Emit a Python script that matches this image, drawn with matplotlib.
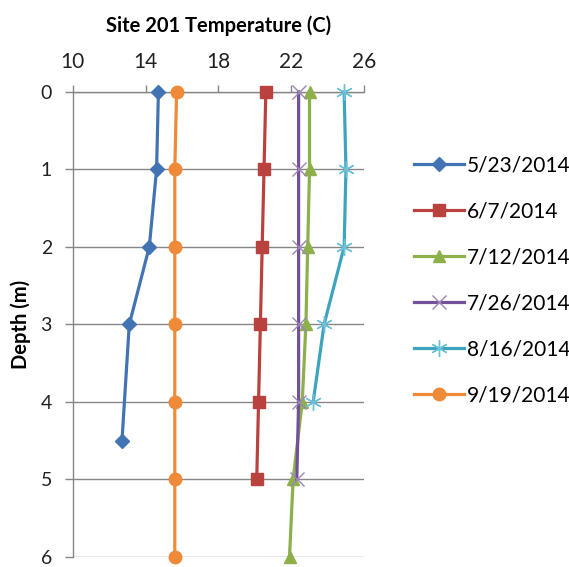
import matplotlib.pyplot as plt

plt.rcParams['font.family'] = ['Lato', 'DejaVu Sans']

# depth (m) and temperature (C) per sampling date
dates = ['5/23/2014', '6/7/2014', '7/12/2014', '7/26/2014', '8/16/2014', '9/19/2014']

depth_0523 = [0, 1, 2, 3, 4.5]
temp_0523 = [14.7, 14.6, 14.2, 13.1, 12.7]

depth_0607 = [0, 1, 2, 3, 4, 5]
temp_0607 = [20.6, 20.5, 20.4, 20.3, 20.2, 20.1]

depth_0712 = [0, 1, 2, 3, 4, 5, 6]
temp_0712 = [23.0, 23.0, 22.9, 22.8, 22.6, 22.1, 21.9]

depth_0726 = [0, 1, 2, 3, 4, 5]
temp_0726 = [22.4, 22.4, 22.4, 22.4, 22.4, 22.3]

depth_0816 = [0, 1, 2, 3, 4]
temp_0816 = [24.9, 25.0, 24.9, 23.8, 23.2]

depth_0919 = [0, 1, 2, 3, 4, 5, 6]
temp_0919 = [15.7, 15.6, 15.6, 15.6, 15.6, 15.6, 15.6]

xticks = [10, 14, 18, 22, 26]
yticks = [0, 1, 2, 3, 4, 5, 6]

fig = plt.figure(figsize=(5.69, 5.67), dpi=100)
ax = fig.add_axes([0.128, 0.018, 0.512, 0.820])

grey = '#868686'
lw = 2.3

ax.plot(temp_0523, depth_0523, color='#4274B4', lw=lw, marker='D', ms=7,
        mec='#4274B4', label=dates[0], clip_on=False, zorder=3)
ax.plot(temp_0607, depth_0607, color='#B9413E', lw=lw, marker='s', ms=9,
        mec='#B9413E', label=dates[1], clip_on=False, zorder=3)
ax.plot(temp_0712, depth_0712, color='#8DB04B', lw=lw, marker='^', ms=9,
        mec='#8DB04B', label=dates[2], clip_on=False, zorder=3)
ax.plot(temp_0726, depth_0726, color='#70519A', lw=lw, marker='x', ms=10,
        mew=1.0, mec='#9C86B8', label=dates[3], clip_on=False, zorder=3)
ax.plot(temp_0816, depth_0816, color='#3DA3BF', lw=lw, marker=(6, 2, 0), ms=12,
        mew=1.0, mec='#6CC0D8', label=dates[4], clip_on=False, zorder=3)
ax.plot(temp_0919, depth_0919, color='#EF8A38', lw=lw, marker='o', ms=9,
        mec='#EF8A38', label=dates[5], clip_on=False, zorder=3)

ax.set_xlim(10, 26)
ax.set_ylim(6, 0)
ax.set_xticks(xticks)
ax.set_yticks(yticks)
ax.xaxis.tick_top()
ax.tick_params(axis='x', colors=grey, labelcolor='#222222', labelsize=15,
               length=5, width=1, pad=9)
ax.tick_params(axis='y', colors=grey, labelcolor='#222222', labelsize=14,
               length=6, width=1, pad=9)
ax.grid(axis='y', color=grey, lw=1)
ax.set_axisbelow(True)

for s in ['right', 'bottom']:
    ax.spines[s].set_visible(False)
for s in ['left', 'top']:
    ax.spines[s].set_color(grey)
    ax.spines[s].set_linewidth(1)

ax.set_ylabel('Depth (m)', fontsize=14.5, fontweight='bold', labelpad=7)
fig.text(0.384, 0.954, 'Site 201 Temperature (C)', ha='center', va='center',
         fontsize=14.5, fontweight='bold')

ax.legend(loc='center left', bbox_to_anchor=(1.107, 0.594), frameon=False,
          fontsize=15, labelspacing=1.25, handlelength=2.4, handletextpad=0.12)

fig.savefig('out.png', dpi=100)
